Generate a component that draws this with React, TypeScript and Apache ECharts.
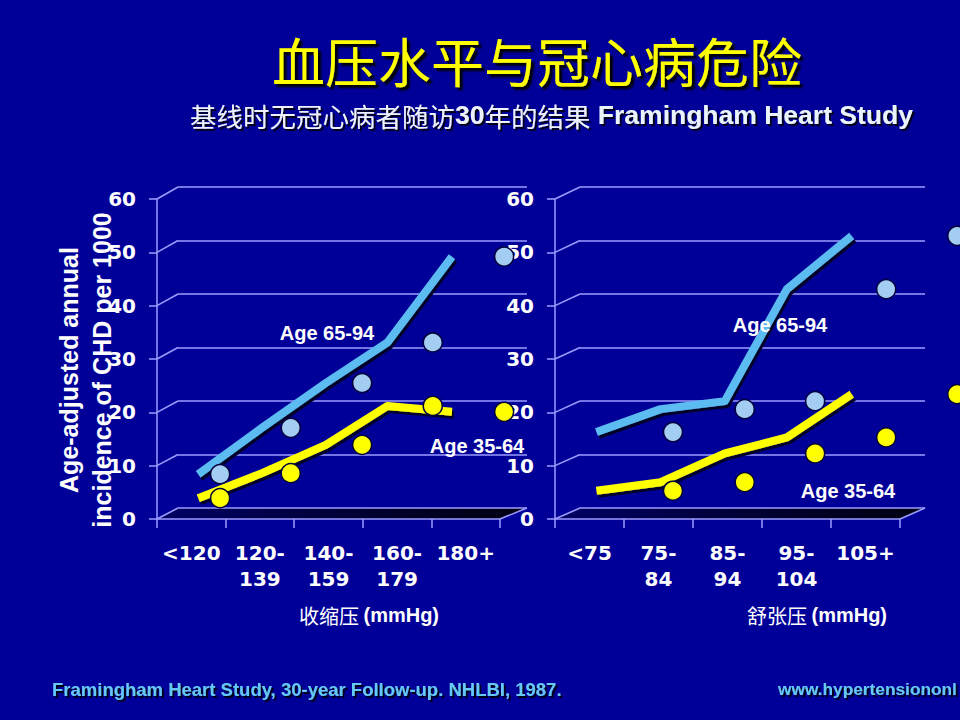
import React, { useEffect, useRef } from 'react';
import * as echarts from 'echarts';

// ---- data ----
const sbpCategories = ['<120', '120-\n139', '140-\n159', '160-\n179', '180+'];
const dbpCategories = ['<75', '75-\n84', '85-\n94', '95-\n104', '105+'];

// annual CHD incidence per 1000
const sbpAge6594 = [8.4, 17.1, 25.5, 33.1, 49.2];
const sbpAge3564 = [3.9, 8.6, 13.9, 21.2, 20.1];
const dbpAge6594 = [16.3, 20.6, 22.1, 43.1, 53.1];
const dbpAge3564 = [5.3, 6.9, 12.3, 15.3, 23.4];

// horizontal placement (in category units) of the ribbon vertices and of the markers
const lineX = [0.6, 1.53, 2.46, 3.36, 4.3];
const sbpDotX = [0.92, 1.95, 2.99, 4.02, 5.06];
const dbpDotX = [1.71, 2.75, 3.77, 4.8, 5.83];

const yMin = 0;
const yMax = 60;
const yStep = 10;

const BG = '#000099';
const GRID = '#9c9cff';
const BLUE = '#5cbcf2';
const BLUE_DOT = '#a4cdf4';
const YELLOW = '#ffff00';
const NUM_FONT = '"DejaVu Sans", Verdana, sans-serif';
const LAT_FONT = '"Liberation Sans", Arial, sans-serif';
const CJK_FONT = '"Noto Sans CJK SC", sans-serif';

export default function App() {
  const ref = useRef<HTMLDivElement>(null);

  useEffect(() => {
    const chart = echarts.init(ref.current!, null, { renderer: 'svg' });

    const grids = [
      { left: 157, top: 199, width: 343, height: 320 }, // sbp front
      { left: 178, top: 187, width: 349, height: 321 }, // sbp back wall
      { left: 555, top: 199, width: 345, height: 320 }, // dbp front
      { left: 580, top: 187, width: 345, height: 321 }, // dbp back wall
    ];

    const catAxis = (gridIndex: number, data: string[]) => ({
      type: 'category',
      gridIndex,
      data,
      boundaryGap: true,
      z: 3,
      axisLine: { show: true, lineStyle: { color: GRID, width: 1.5 } },
      axisTick: { show: true, length: 9, lineStyle: { color: GRID, width: 1.5 } },
      axisLabel: {
        interval: 0,
        margin: 21,
        color: '#ffffff',
        fontFamily: NUM_FONT,
        fontWeight: 'bold',
        fontSize: 20,
        lineHeight: 26,
      },
      splitLine: { show: false },
    });
    const hiddenX = (gridIndex: number) => ({
      type: 'value',
      gridIndex,
      min: 0,
      max: 5,
      show: false,
    });
    const frontY = (gridIndex: number) => ({
      type: 'value',
      gridIndex,
      min: yMin,
      max: yMax,
      interval: yStep,
      z: 3,
      axisLine: { show: true, lineStyle: { color: GRID, width: 1.5 } },
      axisTick: { show: true, length: 8, lineStyle: { color: GRID, width: 1.5 } },
      axisLabel: {
        margin: 21,
        color: '#ffffff',
        fontFamily: NUM_FONT,
        fontWeight: 'bold',
        fontSize: 20,
      },
      splitLine: { show: false },
    });
    const backY = (gridIndex: number) => ({
      type: 'value',
      gridIndex,
      min: yMin,
      max: yMax,
      interval: yStep,
      z: 1,
      axisLine: { show: false },
      axisTick: { show: false },
      axisLabel: { show: false },
      splitLine: { show: true, lineStyle: { color: GRID, width: 1.5 } },
    });

    const ribbon = (name: string, xs: number[], ys: number[], color: string, xi: number, yi: number) => ({
      type: 'line',
      name,
      xAxisIndex: xi,
      yAxisIndex: yi,
      data: xs.map((x, i) => [x, ys[i]]),
      symbol: 'none',
      z: 5,
      lineStyle: {
        color,
        width: 8,
        join: 'round',
        shadowColor: '#00002a',
        shadowOffsetX: 2,
        shadowOffsetY: 3,
        shadowBlur: 1,
      },
    });
    const dots = (name: string, xs: number[], ys: number[], color: string, xi: number, yi: number) => ({
      type: 'scatter',
      name,
      xAxisIndex: xi,
      yAxisIndex: yi,
      data: xs.map((x, i) => [x, ys[i]]),
      symbol: 'circle',
      symbolSize: 19,
      clip: false,
      z: 6,
      itemStyle: { color, borderColor: '#00003c', borderWidth: 1.5, opacity: 1 },
    });

    chart.setOption({
      animation: false,
      backgroundColor: BG,
      grid: grids,
      xAxis: [
        catAxis(0, sbpCategories), // 0
        hiddenX(0), // 1
        hiddenX(1), // 2
        catAxis(2, dbpCategories), // 3
        hiddenX(2), // 4
        hiddenX(3), // 5
      ],
      yAxis: [frontY(0), backY(1), frontY(2), backY(3)],
      series: [
        ribbon('SBP Age 65-94', lineX, sbpAge6594, BLUE, 1, 0),
        ribbon('SBP Age 35-64', lineX, sbpAge3564, YELLOW, 1, 0),
        ribbon('DBP Age 65-94', lineX, dbpAge6594, BLUE, 4, 2),
        ribbon('DBP Age 35-64', lineX, dbpAge3564, YELLOW, 4, 2),
        dots('SBP Age 65-94 pts', sbpDotX, sbpAge6594, BLUE_DOT, 1, 0),
        dots('SBP Age 35-64 pts', sbpDotX, sbpAge3564, YELLOW, 1, 0),
        dots('DBP Age 65-94 pts', dbpDotX, dbpAge6594, BLUE_DOT, 4, 2),
        dots('DBP Age 35-64 pts', dbpDotX, dbpAge3564, YELLOW, 4, 2),
      ],
    });

    // 3-D frame: diagonal connectors and floor, derived from the axes' own scales
    const px = (xi: number, yi: number, p: number[]) =>
      chart.convertToPixel({ xAxisIndex: xi, yAxisIndex: yi }, p) as number[];
    const frame: any[] = [];
    const panels = [
      { fx: 1, fy: 0, bx: 2, by: 1 },
      { fx: 4, fy: 2, bx: 5, by: 3 },
    ];
    panels.forEach((p) => {
      const fl = px(p.fx, p.fy, [0, 0]);
      const fr = px(p.fx, p.fy, [5, 0]);
      const bl = px(p.bx, p.by, [0, 0]);
      const br = px(p.bx, p.by, [5, 0]);
      frame.push({
        type: 'polygon',
        z: 0,
        silent: true,
        shape: { points: [fl, fr, br, bl] },
        style: {
          fill: new echarts.graphic.LinearGradient(0, 0, 1, 0, [
            { offset: 0, color: '#000066' },
            { offset: 0.6, color: '#00002e' },
            { offset: 1, color: '#000010' },
          ]),
        },
      });
      frame.push({
        type: 'line',
        z: 2,
        silent: true,
        shape: { x1: fr[0], y1: fr[1], x2: br[0], y2: br[1] },
        style: { stroke: GRID, lineWidth: 1.5 },
      });
      for (let v = yMin; v <= yMax; v += yStep) {
        const a = px(p.fx, p.fy, [0, v]);
        const b = px(p.bx, p.by, [0, v]);
        frame.push({
          type: 'line',
          z: 2,
          silent: true,
          shape: { x1: a[0], y1: a[1], x2: b[0], y2: b[1] },
          style: { stroke: GRID, lineWidth: 1.5 },
        });
      }
    });

    const txt = (x: number, y: number, text: string, style: any, extra: any = {}) => ({
      type: 'text',
      x,
      y,
      z: 10,
      silent: true,
      ...extra,
      style: { text, align: 'center', verticalAlign: 'middle', ...style },
    });
    const shadow = { textShadowColor: '#00001a', textShadowOffsetX: 2, textShadowOffsetY: 2, textShadowBlur: 1 };

    const texts = [
      txt(537, 60, '血压水平与冠心病危险', {
        fill: '#ffff00',
        fontFamily: CJK_FONT,
        fontSize: 53,
        lineHeight: 52,
        textShadowColor: '#000000',
        textShadowOffsetX: 3,
        textShadowOffsetY: 3,
        textShadowBlur: 2,
      }),
      txt(
        190,
        115,
        '{a|基线时无冠心病者随访}{b|30}{a|年的结果}{c| Framingham Heart Study}',
        {
          align: 'left',
          rich: {
            a: { fill: '#eef2ff', fontFamily: CJK_FONT, fontSize: 26.5, lineHeight: 28, ...shadow },
            b: { fill: '#eef2ff', fontFamily: LAT_FONT, fontWeight: 'bold', fontSize: 26.5, lineHeight: 28, ...shadow },
            c: { fill: '#eaf4ff', fontFamily: LAT_FONT, fontWeight: 'bold', fontSize: 26.5, lineHeight: 28, ...shadow },
          },
        }
      ),
      txt(
        85,
        370,
        'Age-adjusted annual\nincidence of CHD per 1000',
        { fill: '#ffffff', fontFamily: LAT_FONT, fontWeight: 'bold', fontSize: 25, lineHeight: 33 },
        { rotation: Math.PI / 2 }
      ),
      txt(327, 333, 'Age 65-94', { fill: '#ffffff', fontFamily: LAT_FONT, fontWeight: 'bold', fontSize: 20 }),
      txt(477, 446, 'Age 35-64', { fill: '#ffffff', fontFamily: LAT_FONT, fontWeight: 'bold', fontSize: 20 }),
      txt(780, 325, 'Age 65-94', { fill: '#ffffff', fontFamily: LAT_FONT, fontWeight: 'bold', fontSize: 20 }),
      txt(848, 491, 'Age 35-64', { fill: '#ffffff', fontFamily: LAT_FONT, fontWeight: 'bold', fontSize: 20 }),
      txt(369, 615, '{a|收缩压 }{b|(mmHg)}', {
        rich: {
          a: { fill: '#ffffff', fontFamily: CJK_FONT, fontSize: 20 },
          b: { fill: '#ffffff', fontFamily: LAT_FONT, fontWeight: 'bold', fontSize: 20 },
        },
      }),
      txt(817, 615, '{a|舒张压 }{b|(mmHg)}', {
        rich: {
          a: { fill: '#ffffff', fontFamily: CJK_FONT, fontSize: 20 },
          b: { fill: '#ffffff', fontFamily: LAT_FONT, fontWeight: 'bold', fontSize: 20 },
        },
      }),
      txt(52, 689, 'Framingham Heart Study, 30-year Follow-up. NHLBI, 1987.', {
        align: 'left',
        fill: '#66c8f8',
        fontFamily: LAT_FONT,
        fontWeight: 'bold',
        fontSize: 18.5,
        ...shadow,
      }),
      txt(778, 689, 'www.hypertensiononl', {
        align: 'left',
        fill: '#66c8f8',
        fontFamily: LAT_FONT,
        fontWeight: 'bold',
        fontSize: 17.3,
        ...shadow,
      }),
    ];

    chart.setOption({ graphic: [...frame, ...texts] });

    return () => chart.dispose();
  }, []);

  return (
    <div
      ref={ref}
      style={{ position: 'fixed', left: 0, top: 0, width: 960, height: 720, background: BG }}
    />
  );
}
